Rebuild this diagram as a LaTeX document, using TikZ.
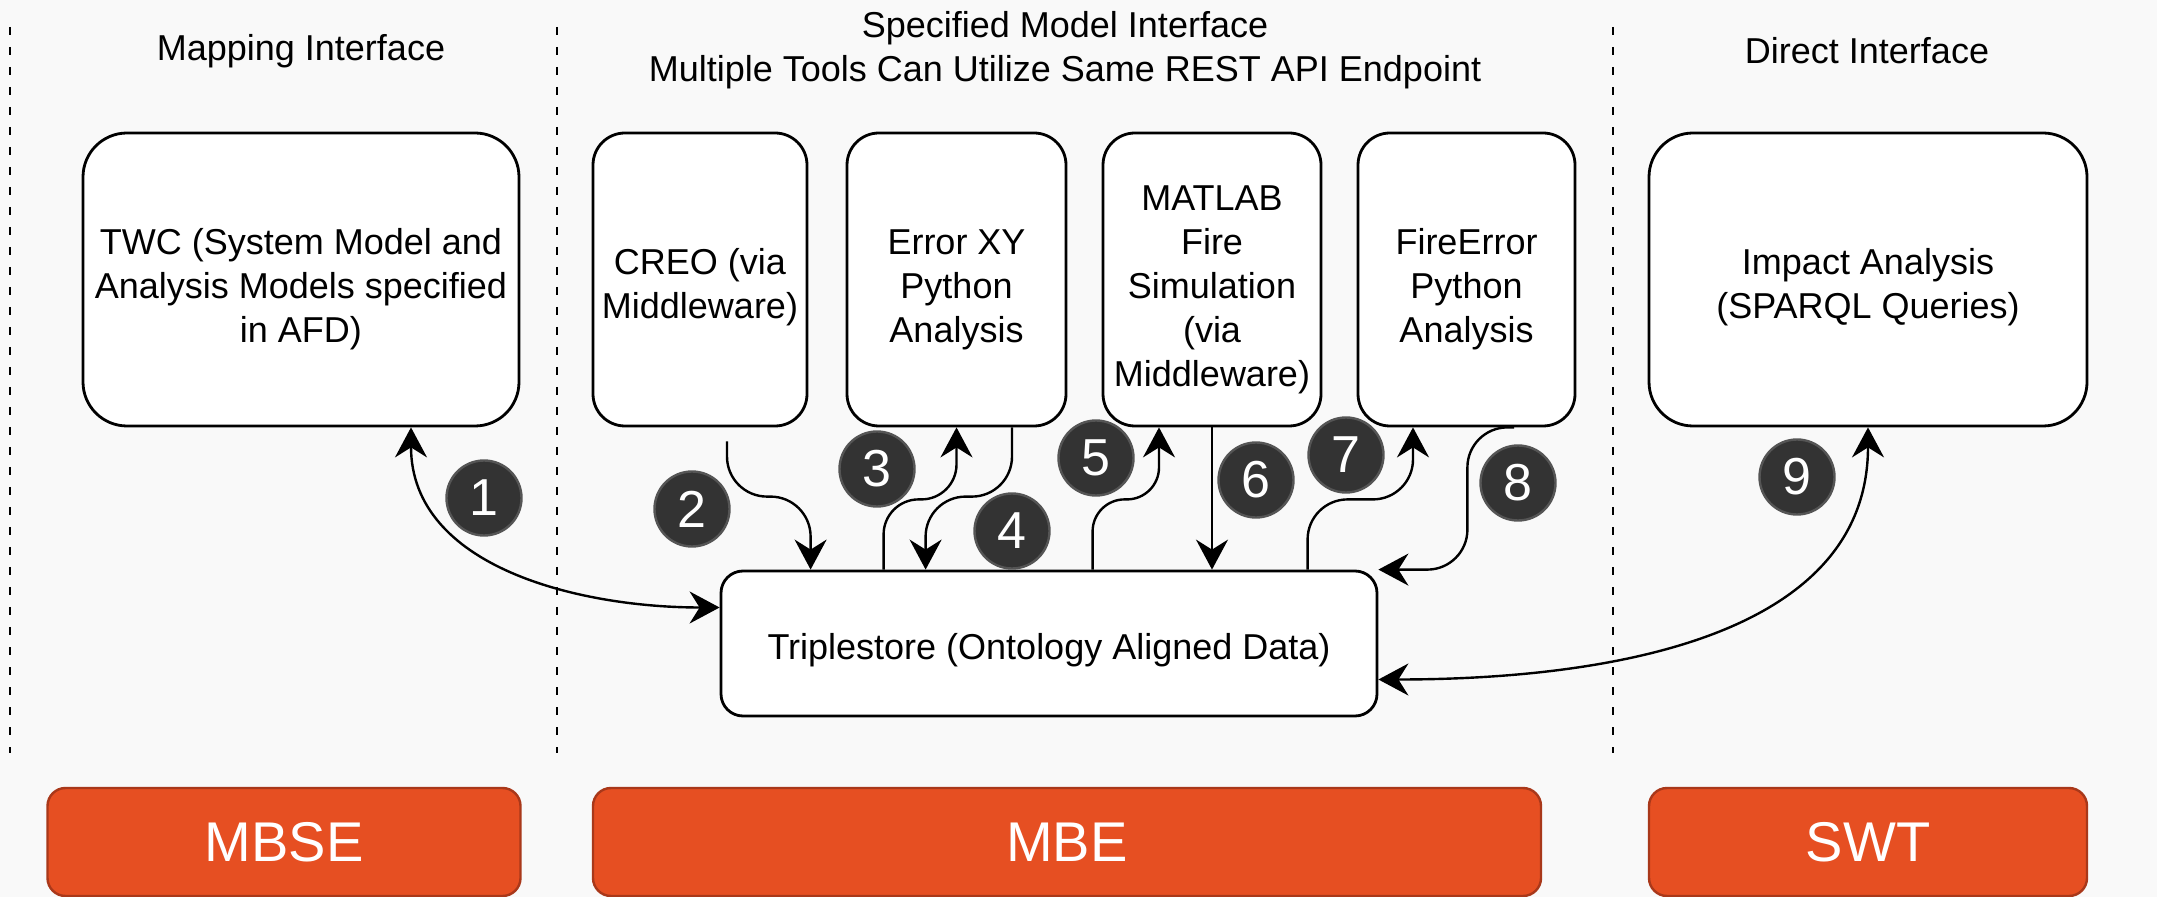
\documentclass[tikz,border=0pt]{standalone}
\usepackage{fontspec}
\setmainfont{Liberation Sans}
\usetikzlibrary{arrows.meta,calc}
\definecolor{bgc}{HTML}{F9F9F9}
\definecolor{orf}{HTML}{E64F22}
\definecolor{ord}{HTML}{A9381A}
\definecolor{circf}{HTML}{333333}
\definecolor{circd}{HTML}{555555}
\newcommand\txtdrop[1]{\rule{0pt}{#1}}
\begin{document}
\begin{tikzpicture}[x=0.5pt,y=-0.5pt,
  >={Stealth[length=15pt,width=16pt,inset=5pt]},
  txt/.style={font=\fontsize{18}{22}\selectfont, align=center},
  tool/.style={draw=black, line width=1.4pt, fill=white, rounded corners=16pt,
    minimum height=146.5pt, inner sep=2pt, txt},
  bigtool/.style={tool, rounded corners=22pt},
  band/.style={draw=ord, line width=1.2pt, fill=orf, rounded corners=9pt,
    minimum height=54pt, inner sep=0pt, text=white, font=\fontsize{28}{30}\selectfont},
  num/.style={circle, fill=circf, draw=circd, line width=1.2pt, minimum size=37.5pt,
    inner sep=0pt, text=white, font=\fontsize{26}{26}\selectfont},
  conn/.style={draw=black, line width=1.2pt, rounded corners=#1},
  conn/.default=20pt,
  divider/.style={draw=black, line width=1.2pt, dash pattern=on 4pt off 6pt}
]
\fill[bgc] (0,0) rectangle (2157,897);
\useasboundingbox (0,0) rectangle (2157,897);

% dividers
\draw[divider] (10,27) -- (10,753);
\draw[divider] (557,27) -- (557,753);
\draw[divider] (1613,27) -- (1613,753);

% headings
\node[txt] (h1) at (301,51) {Mapping Interface};
\node[txt] (h2) at (1065,50) {Specified Model Interface\\Multiple Tools Can Utilize Same REST API Endpoint};
\node[txt] (h3) at (1867,51) {Direct Interface};

% top boxes
\node[bigtool, minimum width=218pt] (twc) at (301,279.5) {\txtdrop{23pt}TWC (System Model and\\Analysis Models specified\\in AFD)};
\node[tool, minimum width=107pt] (creo) at (700,279.5) {\txtdrop{21pt}CREO (via\\Middleware)};
\node[tool, minimum width=109.5pt] (errxy) at (956.5,279.5) {\txtdrop{23pt}Error XY\\Python\\Analysis};
\node[tool, minimum width=109pt] (matlab) at (1212,279.5) {\txtdrop{23pt}MATLAB\\Fire\\Simulation\\(via\\Middleware)};
\node[tool, minimum width=108.5pt] (firerr) at (1466.5,279.5) {\txtdrop{23pt}FireError\\Python\\Analysis};
\node[bigtool, minimum width=219pt] (impact) at (1868,279.5) {\txtdrop{21pt}Impact Analysis\\(SPARQL Queries)};

% triplestore
\node[tool, minimum width=328pt, minimum height=72.5pt, rounded corners=11pt] (tri) at (1049,643.5) {\txtdrop{20pt}Triplestore (Ontology Aligned Data)};

% bottom bands
\node[band, minimum width=236.5pt] (mbse) at (284,842) {MBSE};
\node[band, minimum width=474pt] (mbe) at (1067,842) {MBE};
\node[band, minimum width=219pt] (swt) at (1868,842) {SWT};

% connectors
\draw[conn, <->] ($(twc.south)+(110,0)$) to[out=-90,in=180] ($(tri.west)+(0,-36)$);
\draw[conn=20pt, ->] ($(creo.south)+(27,14)$) |- ($(tri.north west)+(91,-73)$) -- ($(tri.north west)+(91,0)$);
\draw[conn=17.5pt, ->] ($(tri.north west)+(164,0)$) |- ($(errxy.south)+(0,72)$) -- (errxy.south);
\draw[conn=20pt, ->] ($(errxy.south)+(55.5,0)$) |- ($(tri.north west)+(206,-73)$) -- ($(tri.north west)+(206,0)$);
\draw[conn=16pt, ->] ($(tri.north west)+(373,0)$) |- ($(matlab.south)+(-53,72)$) -- ($(matlab.south)+(-53,0)$);
\draw[conn, ->, line width=1pt] (matlab.south) -- (matlab.south |- tri.north);
\draw[conn=20pt, ->] ($(tri.north west)+(588,0)$) |- ($(firerr.south)+(-53.5,72)$) -- ($(firerr.south)+(-53.5,0)$);
\draw[conn=20pt, ->] ($(firerr.south)+(47.5,0)$) -| ($(tri.north east)+(89,0)$) -- (tri.north east);
\draw[conn, <->] (impact.south) to[out=-90,in=0] ($(tri.east)+(0,36)$);

% step numbers
\node[num] (n1) at (484,498) {1};
\node[num] (n2) at (692,509) {2};
\node[num] (n3) at (877,469) {3};
\node[num] (n4) at (1012,531) {4};
\node[num] (n5) at (1096,458) {5};
\node[num] (n6) at (1256,480) {6};
\node[num] (n7) at (1346,455) {7};
\node[num] (n8) at (1518,483) {8};
\node[num] (n9) at (1797,477) {9};
\end{tikzpicture}
\end{document}
